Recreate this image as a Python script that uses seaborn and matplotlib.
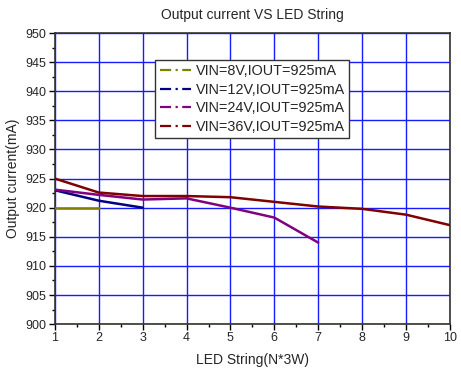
import numpy as np
import pandas as pd
import matplotlib
matplotlib.use("Agg")
import matplotlib.pyplot as plt
from matplotlib.lines import Line2D
from matplotlib.ticker import MultipleLocator
import seaborn as sns

series_names = ["VIN=8V,IOUT=925mA", "VIN=12V,IOUT=925mA",
                "VIN=24V,IOUT=925mA", "VIN=36V,IOUT=925mA"]
x_8v = [1, 2]
y_8v = [920.0, 920.0]
x_12v = [1, 2, 3]
y_12v = [923.0, 921.2, 920.0]
x_24v = [1, 2, 3, 4, 5, 6, 7]
y_24v = [923.1, 922.2, 921.4, 921.6, 920.0, 918.3, 914.0]
x_36v = [1, 2, 3, 4, 5, 6, 7, 8, 9, 10]
y_36v = [925.0, 922.6, 922.0, 922.0, 921.8, 921.0, 920.2, 919.8, 918.8, 917.0]
colors = ["#808000", "#000080", "#800080", "#800000"]

frames = []
for name, xs, ys in zip(series_names, [x_8v, x_12v, x_24v, x_36v],
                        [y_8v, y_12v, y_24v, y_36v]):
    frames.append(pd.DataFrame({"x": xs, "y": ys, "series": name}))
df = pd.concat(frames, ignore_index=True)

sns.set_style("white")
plt.rcParams['font.family'] = ['Liberation Sans', 'DejaVu Sans']

fig = plt.figure(figsize=(4.61, 3.73), dpi=100)
ax = fig.add_axes([0.119, 0.131, 0.857, 0.7805])

sns.lineplot(data=df, x="x", y="y", hue="series", hue_order=series_names,
             palette=colors, linewidth=1.8, ax=ax, legend=False, zorder=3)

ax.set_xlim(1, 10)
ax.set_ylim(900, 950)
ax.xaxis.set_major_locator(MultipleLocator(1))
ax.xaxis.set_minor_locator(MultipleLocator(0.5))
ax.yaxis.set_major_locator(MultipleLocator(5))
ax.yaxis.set_minor_locator(MultipleLocator(2.5))
ax.grid(True, which="major", color="#1a1aff", linewidth=1.0, zorder=0)
ax.tick_params(axis="both", which="major", direction="out", length=4,
               width=1, labelsize=9, color="black", bottom=True, left=True,
               pad=2)
ax.tick_params(axis="both", which="minor", direction="out", length=2.5,
               width=1, color="black", bottom=True, left=True)
for s in ax.spines.values():
    s.set_color("#333333")
    s.set_linewidth(1.2)

ax.set_title("Output current VS LED String", fontsize=10, pad=10)
ax.set_xlabel("LED String(N*3W)", fontsize=10, labelpad=6)
ax.set_ylabel("Output current(mA)", fontsize=10, labelpad=4)

handles = [Line2D([0], [0], color=c, linestyle=(0, (5, 2, 1, 2)), linewidth=1.6)
           for c in colors]
leg = ax.legend(handles, series_names, loc="upper left",
                bbox_to_anchor=(0.254, 0.908), fontsize=10.4, frameon=True,
                fancybox=False, edgecolor="#333333", framealpha=1,
                handlelength=2.2, handletextpad=0.3, labelspacing=0.32,
                borderpad=0.3, borderaxespad=0)
leg.get_frame().set_linewidth(1.0)
leg.set_zorder(5)

fig.savefig("out.png", dpi=100)
